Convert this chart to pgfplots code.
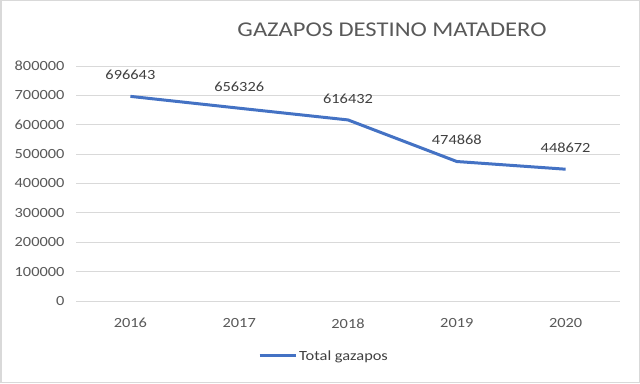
\documentclass[border=0pt]{standalone}
\usepackage{pgfplots}
\pgfplotsset{compat=1.18}
\usepackage{fontspec}
\setmainfont{Carlito}[FakeStretch=1.17]
\definecolor{linec}{HTML}{4472C4}
\definecolor{gridc}{HTML}{D9D9D9}
\definecolor{txtc}{HTML}{595959}
\definecolor{lblc}{HTML}{404040}
\begin{document}
\begin{tikzpicture}[x=1bp,y=1bp]
\draw[gridc,line width=1.5bp,fill=white] (0.75,0.75) rectangle (639.25,382.25);
\node[txtc,font=\fontsize{21bp}{24bp}\selectfont] at (392,353) {GAZAPOS DESTINO MATADERO};
\begin{axis}[
  at={(76bp,82bp)}, anchor=south west,
  scale only axis, width=544bp, height=235bp,
  xmin=-0.5, xmax=4.5, ymin=0, ymax=800000,
  xtick={0,1,2,3,4}, xticklabels={2016,2017,2018,2019,2020},
  ytick={0,100000,200000,300000,400000,500000,600000,700000,800000},
  /pgf/number format/fixed,
  /pgf/number format/1000 sep={},
  /pgf/number format/assume math mode=true,
  scaled y ticks=false,
  ymajorgrids, grid style={gridc,line width=0.8bp},
  axis line style={draw=none},
  major tick length=0pt,
  tick label style={txtc,font=\fontsize{14bp}{16bp}\selectfont},
  yticklabel style={xshift=-8bp},
  xticklabel style={yshift=-14bp},
  clip=false,
  legend style={at={(0.456,-0.234)},anchor=center,draw=none,fill=none,
    font=\fontsize{14bp}{16bp}\selectfont,text=lblc},
  legend image code/.code={\draw[#1,line width=3bp] (0bp,0bp) -- (36bp,0bp);},
  nodes near coords, point meta=explicit symbolic,
  every node near coord/.append style={lblc,font=\fontsize{14bp}{16bp}\selectfont,anchor=south,yshift=12bp},
]
\draw[gridc,line width=0.8bp] (axis cs:-0.5,0) -- (axis cs:4.5,0);
\addplot[linec,line width=3bp,mark=none] coordinates {
  (0,696643) [696643]
  (1,656326) [656326]
  (2,616432) [616432]
  (3,474868) [474868]
  (4,448672) [448672]
};
\addlegendentry{Total gazapos}
\end{axis}
\end{tikzpicture}
\end{document}
